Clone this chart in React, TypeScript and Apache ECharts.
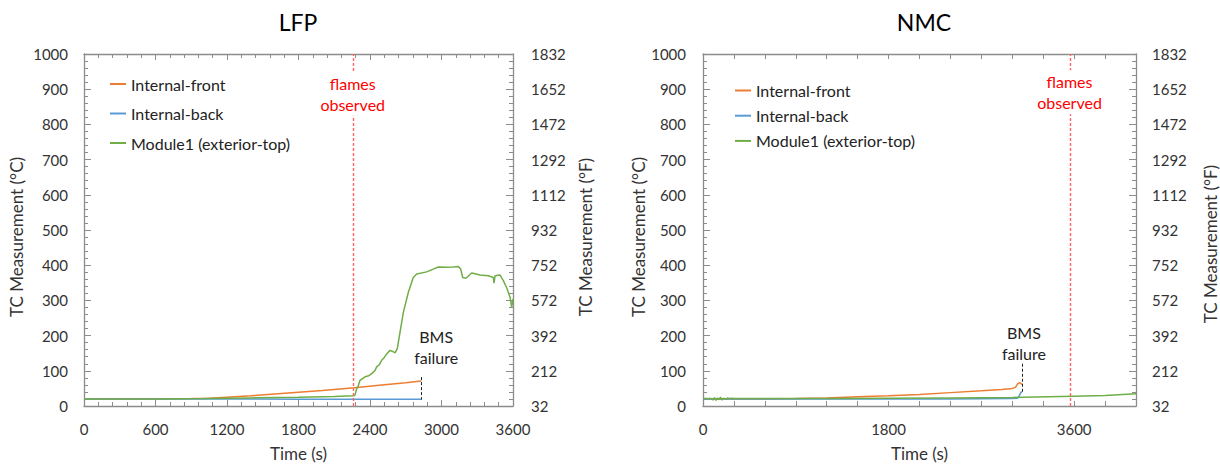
import React, { useEffect, useRef } from "react";
import * as echarts from "echarts";

// ---------- data ----------
const seriesNames = ["Internal-front", "Internal-back", "Module1 (exterior-top)"];
const seriesColors = ["#ED7D31", "#5B9BD5", "#70AD47"];

// LFP
const lfpFrontT = [0, 300, 600, 900, 1050, 1200, 1400, 1600, 1800, 2000, 2270, 2500, 2700, 2830];
const lfpFrontV = [20, 20, 20, 21, 22, 25, 29, 34, 39, 44, 52, 60, 66, 71];
const lfpBackT = [0, 600, 1200, 1800, 2400, 2830];
const lfpBackV = [20, 20, 20, 19, 19, 19];
const lfpModuleT = [0, 600, 1000, 1400, 1800, 2100, 2262, 2274, 2288, 2300, 2316, 2358, 2390, 2414, 2440, 2456, 2480, 2498, 2520, 2540, 2568, 2590, 2610, 2629, 2652, 2680, 2722, 2763, 2792, 2875, 2931, 2973, 3043, 3100, 3141, 3161, 3178, 3205, 3253, 3290, 3323, 3393, 3435, 3441, 3449, 3491, 3519, 3547, 3575, 3589, 3600];
const lfpModuleV = [20, 20, 21, 23, 25, 27, 29, 31, 49, 56, 73, 83, 86, 92, 100, 111, 118, 130, 138, 148, 158, 155, 151, 163, 210, 266, 323, 365, 375, 381, 389, 395, 394, 395, 396, 389, 365, 363, 378, 375, 372, 370, 365, 349, 370, 372, 356, 336, 309, 281, 304];

// NMC
const nmcFrontT = [0, 300, 600, 900, 1200, 1500, 1800, 2100, 2400, 2700, 2900, 3000, 3030, 3050, 3068, 3080, 3094];
const nmcFrontV = [20, 20, 20, 21, 23, 26, 29, 33, 38, 43, 47, 50, 53, 62, 66, 65, 61];
const nmcBackT = [0, 600, 1200, 1800, 2400, 2990, 3050, 3070, 3085, 3094];
const nmcBackV = [20, 20, 20, 20, 20, 21, 22, 30, 40, 38];
const nmcModuleT = [0, 80, 95, 110, 125, 140, 155, 170, 185, 200, 220, 240, 260, 280, 300, 330, 600, 1200, 1800, 2400, 3000, 3100, 3600, 3900, 4200];
const nmcModuleV = [21, 21, 17, 24, 16, 23, 18, 25, 17, 22, 19, 23, 21, 22, 21, 21, 21, 21, 22, 23, 24, 25, 28, 30, 35];

// annotations
const lfpFlamesTime = 2258;
const lfpFlamesLabel = [2255, 887];
const lfpBmsTime = 2830;
const lfpBmsRange = [82, 18];
const lfpBmsLabel = [2955, 167];
const nmcFlamesTime = 3565;
const nmcFlamesLabel = [3555, 891];
const nmcBmsTime = 3100;
const nmcBmsRange = [120, 36];
const nmcBmsLabel = [3113, 180];

// axis tick labels
const cTicks = { min: 0, max: 1000, interval: 100 };
const toF = (c: number) => String(Math.round(c * 1.8 + 32));

// ---------- styles ----------
const FONT = "Lato, 'Open Sans', sans-serif";
const AXIS_COLOR = "#8c8c8c";
const LABEL_COLOR = "#333333";

const zip = (t: number[], v: number[]) => t.map((x, i) => [x, v[i]]);

function xAxisDef(grid: number, pos: "bottom" | "top", max: number, interval: number, minorSplit: number, tickLen: number, labelFmt: (v: number) => string) {
  return {
    type: "value",
    gridIndex: grid,
    position: pos,
    min: 0,
    max,
    interval,
    axisLine: { show: true, onZero: false, lineStyle: { color: AXIS_COLOR, width: 1.3 } },
    axisTick: { show: true, inside: true, length: tickLen, lineStyle: { color: AXIS_COLOR } },
    minorTick: { show: minorSplit > 0, splitNumber: minorSplit || 5, length: 4, lineStyle: { color: AXIS_COLOR } },
    splitLine: { show: false },
    minorSplitLine: { show: false },
    axisLabel: pos === "bottom"
      ? { show: true, color: LABEL_COLOR, fontSize: 15, fontFamily: FONT, margin: 15, interval: 0, formatter: labelFmt }
      : { show: false },
    name: pos === "bottom" ? "Time (s)" : "",
    nameLocation: "middle",
    nameGap: 39,
    nameTextStyle: { color: LABEL_COLOR, fontSize: 17, fontFamily: FONT },
  };
}

function yAxisDef(grid: number, pos: "left" | "right", margin: number, nameGap: number, namePad: number[], fahrenheit: boolean) {
  return {
    type: "value",
    gridIndex: grid,
    position: pos,
    min: cTicks.min,
    max: cTicks.max,
    interval: cTicks.interval,
    axisLine: { show: true, onZero: false, lineStyle: { color: AXIS_COLOR, width: 1.3 } },
    axisTick: { show: true, inside: true, length: 7, lineStyle: { color: AXIS_COLOR } },
    minorTick: { show: true, splitNumber: 5, length: 4, lineStyle: { color: AXIS_COLOR } },
    splitLine: { show: false },
    minorSplitLine: { show: false },
    axisLabel: {
      color: LABEL_COLOR,
      fontSize: 15,
      fontFamily: FONT,
      margin,
      formatter: fahrenheit ? (v: number) => toF(v) : (v: number) => String(v),
    },
    name: fahrenheit ? "TC Measurement (°F)" : "TC Measurement (°C)",
    nameLocation: "middle",
    nameGap,
    nameTextStyle: { color: LABEL_COLOR, fontSize: 17, fontFamily: FONT, padding: namePad },
  };
}

function lineSeries(name: string, color: string, xi: number, yi: number, data: number[][], extra: any = {}) {
  return {
    type: "line",
    name,
    xAxisIndex: xi,
    yAxisIndex: yi,
    data,
    showSymbol: false,
    symbol: "none",
    color,
    lineStyle: { color, width: 1.5 },
    animation: false,
    ...extra,
  };
}

function markers(flamesTime: number, flamesLabel: number[], bmsTime: number, bmsRange: number[], bmsLabel: number[]) {
  return {
    markLine: {
      silent: true,
      z: 4,
      symbol: ["none", "none"],
      label: { show: false },
      data: [
        { xAxis: flamesTime, lineStyle: { color: "#ff6464", type: [3, 2], width: 1.4 } },
        [
          { coord: [bmsTime, bmsRange[0]], lineStyle: { color: "#222222", type: [3, 2], width: 1 } },
          { coord: [bmsTime, bmsRange[1]] },
        ],
      ],
    },
    markPoint: {
      silent: true,
      z: 6,
      symbol: "circle",
      symbolSize: 1,
      itemStyle: { color: "rgba(0,0,0,0)" },
      data: [
        {
          coord: flamesLabel,
          label: {
            show: true,
            position: "inside",
            formatter: "flames\nobserved",
            color: "#ff0000",
            fontSize: 16,
            lineHeight: 21,
            fontFamily: FONT,
            backgroundColor: "#ffffff",
            padding: [1, 1],
          },
        },
        {
          coord: bmsLabel,
          label: {
            show: true,
            position: "inside",
            formatter: "BMS\nfailure",
            color: "#222222",
            fontSize: 16,
            lineHeight: 21,
            fontFamily: FONT,
          },
        },
      ],
    },
  };
}

function legendDef(left: number, top: number, gap: number) {
  return {
    data: seriesNames,
    left,
    top,
    orient: "vertical",
    padding: 0,
    itemWidth: 16,
    itemHeight: 2,
    itemGap: gap,
    icon: "rect",
    selectedMode: false,
    textStyle: { color: "#222222", fontSize: 16, lineHeight: 16, fontFamily: FONT },
  };
}

export default function App() {
  const ref = useRef<HTMLDivElement>(null);

  useEffect(() => {
    if (!ref.current) return;
    const chart = echarts.init(ref.current, undefined, { renderer: "svg" });
    const lfpFmt = (v: number) => String(v);
    const nmcFmt = (v: number) => (v % 1800 === 0 ? String(v) : "");
    chart.setOption({
      animation: false,
      backgroundColor: "#ffffff",
      textStyle: { fontFamily: FONT },
      grid: [
        { left: 84, right: 707, top: 54, bottom: 59.5 },
        { left: 703, right: 84, top: 54, bottom: 59.5 },
      ],
      xAxis: [
        xAxisDef(0, "bottom", 3600, 600, 5, 6, lfpFmt),
        xAxisDef(0, "top", 3600, 600, 5, 6, lfpFmt),
        xAxisDef(1, "bottom", 4200, 300, 0, 5, nmcFmt),
        xAxisDef(1, "top", 4200, 300, 0, 5, nmcFmt),
      ],
      yAxis: [
        yAxisDef(0, "left", 16, 59, [0, 14, 0, 0], false),
        yAxisDef(0, "right", 18, 64, [0, 14, 0, 0], true),
        yAxisDef(1, "left", 17, 55, [0, 14, 0, 0], false),
        yAxisDef(1, "right", 16, 66, [0, 28, 0, 0], true),
      ],
      legend: [legendDef(110, 76, 13.5), legendDef(735, 82.5, 9.2)],
      graphic: [
        { type: "text", x: 298, y: 22, style: { text: "LFP", fontSize: 23, fontFamily: FONT, fill: "#000", textAlign: "center", textVerticalAlign: "middle" } },
        { type: "text", x: 924, y: 22, style: { text: "NMC", fontSize: 23, fontFamily: FONT, fill: "#000", textAlign: "center", textVerticalAlign: "middle" } },
      ],
      series: [
        lineSeries(seriesNames[0], seriesColors[0], 0, 0, zip(lfpFrontT, lfpFrontV)),
        lineSeries(seriesNames[1], seriesColors[1], 0, 0, zip(lfpBackT, lfpBackV)),
        lineSeries(seriesNames[2], seriesColors[2], 0, 0, zip(lfpModuleT, lfpModuleV),
          markers(lfpFlamesTime, lfpFlamesLabel, lfpBmsTime, lfpBmsRange, lfpBmsLabel)),
        lineSeries(seriesNames[0], seriesColors[0], 2, 2, zip(nmcFrontT, nmcFrontV)),
        lineSeries(seriesNames[1], seriesColors[1], 2, 2, zip(nmcBackT, nmcBackV)),
        lineSeries(seriesNames[2], seriesColors[2], 2, 2, zip(nmcModuleT, nmcModuleV),
          markers(nmcFlamesTime, nmcFlamesLabel, nmcBmsTime, nmcBmsRange, nmcBmsLabel)),
      ],
    });
    return () => chart.dispose();
  }, []);

  return (
    <div
      ref={ref}
      style={{ position: "absolute", left: 0, top: 0, width: 1220, height: 467, background: "#fff" }}
    />
  );
}
